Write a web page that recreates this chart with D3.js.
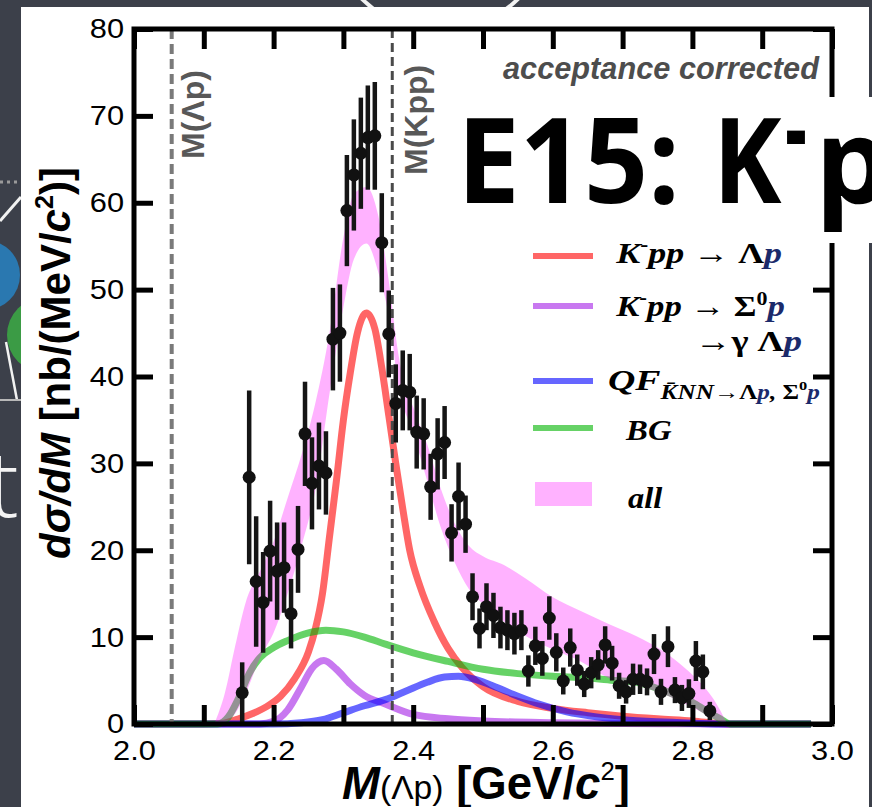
<!DOCTYPE html>
<html><head><meta charset="utf-8">
<script src="https://cdn.jsdelivr.net/npm/d3@7/dist/d3.min.js"></script>
<style>html,body{margin:0;padding:0;background:#3c404a;} svg{display:block}</style>
</head><body>
<svg id="chart" width="872" height="807"></svg>
<script>
// ---------------- data ----------------
const massBins = [2.155,2.165,2.175,2.185,2.195,2.205,2.215,2.225,2.235,2.245,
  2.255,2.265,2.275,2.285,2.295,2.305,2.315,2.325,2.335,2.345,
  2.355,2.365,2.375,2.385,2.395,2.405,2.415,2.425,2.435,2.445,
  2.455,2.465,2.475,2.485,2.495,2.505,2.515,2.525,2.535,2.545,
  2.555,2.565,2.575,2.585,2.595,2.605,2.615,2.625,2.635,2.645,
  2.655,2.665,2.675,2.685,2.695,2.705,2.715,2.725,2.735,2.745,
  2.755,2.765,2.775,2.785,2.795,2.805,2.815,2.825];
const dsigma = [3.6,28.4,16.4,14.0,19.9,17.6,18.0,12.7,20.1,33.4,
  27.7,29.7,28.9,44.3,45.0,59.1,63.2,65.7,67.5,67.7,
  55.4,44.9,36.9,38.4,38.2,33.6,33.4,27.3,31.1,32.4,
  22.0,26.2,23.0,14.65,11.0,13.5,12.5,11.1,10.8,10.4,
  10.8,6.1,9.0,7.55,12.2,8.25,4.95,8.8,6.2,4.6,
  5.9,6.8,9.1,7.0,4.4,3.7,5.15,5.15,4.85,8.05,
  3.7,8.9,3.9,3.0,3.5,7.25,6.0,1.5];
const dsigmaErr = [3.5,10,7.5,5.8,5.8,5.6,5.2,4.0,5.0,6.0,
  5.3,5.0,4.8,5.9,5.6,6.4,6.4,6.4,6.0,6.2,
  5.7,5.0,4.5,4.6,4.4,4.2,4.1,3.8,4.1,4.2,
  3.3,3.9,3.3,2.7,2.3,2.7,2.6,2.4,2.3,2.4,
  2.3,1.8,2.2,2.0,2.5,2.2,1.55,2.2,1.8,1.5,
  1.8,1.7,2.15,2.0,1.5,1.35,1.8,1.7,1.55,2.3,
  1.5,2.35,1.5,1.5,1.65,2.3,2.0,1.05];

// K-pp -> Lambda p
const kppLamX = [2.00,2.10,2.125,2.15,2.17,2.19,2.21,2.23,2.25,2.26,2.27,2.28,2.29,2.30,2.31,2.32,2.333,2.345,2.355,2.365,2.375,2.385,2.395,2.41,2.43,2.45,2.47,2.50,2.55,2.60,2.65,2.70,2.75,2.80,2.85,2.97];
const kppLamY = [0,0,0.05,0.6,1.2,2.0,3.2,5.2,8.3,11,15,21.5,28,35,40.5,45,47.3,45.5,41,35.5,30,24.8,20,15.8,11.8,8.7,6.5,4.3,2.6,1.8,1.3,0.9,0.6,0.35,0,0];
// K-pp -> Sigma0 p
const kppSigX = [2.00,2.18,2.20,2.22,2.24,2.255,2.272,2.29,2.31,2.33,2.36,2.40,2.45,2.50,2.60,2.70,2.80,2.85,2.97];
const kppSigY = [0,0,0.3,1.6,4.3,6.4,7.3,6.3,4.6,3.3,2.3,1.1,0.6,0.35,0.15,0.07,0.02,0,0];
// QF
const qfX = [2.00,2.20,2.24,2.27,2.30,2.33,2.36,2.39,2.42,2.445,2.465,2.49,2.52,2.55,2.58,2.62,2.66,2.70,2.75,2.80,2.85,2.97];
const qfY = [0,0,0.15,0.5,1.3,2.1,2.8,3.8,4.8,5.4,5.5,5.1,4.2,3.2,2.3,1.4,0.85,0.5,0.25,0.1,0,0];
// BG
const bgX = [2.00,2.12,2.135,2.15,2.165,2.18,2.20,2.22,2.25,2.275,2.30,2.33,2.36,2.40,2.45,2.50,2.55,2.60,2.65,2.69,2.72,2.75,2.78,2.80,2.82,2.84,2.855,2.97];
const bgY = [0,0,0.8,3.0,5.8,7.6,8.8,9.6,10.5,10.8,10.6,10.0,9.2,8.2,7.2,6.3,5.8,5.5,5.3,5.0,4.8,4.1,3.2,2.5,1.5,0.6,0,0];
// all (band)
const allX = [2.115,2.13,2.145,2.16,2.18,2.20,2.22,2.24,2.26,2.28,2.30,2.315,2.333,2.35,2.365,2.38,2.40,2.42,2.44,2.46,2.48,2.50,2.53,2.56,2.60,2.64,2.68,2.72,2.76,2.79,2.81,2.83,2.85];
const allHigh = [0,3.5,9,14,17.5,21,26,31,37,45,56,61,61.8,58.5,51,42,36.5,32.2,27,23,20.5,19.3,18.3,16.8,14.6,13,11.5,10.1,8.3,6.4,4.9,2.9,0];
const allLow = [0,0.2,1.2,3.5,7.5,10.5,15,20.5,27,38,48,53.5,55.3,52,47,38.5,33.5,28,22.5,18.5,15.5,13.8,11.8,10.2,8.6,7.2,5.3,4.5,3.4,2.3,1.5,0.6,0];

const xTicks = [2.0,2.1,2.2,2.3,2.4,2.5,2.6,2.7,2.8,2.9,3.0];
const xTickLabels = ['2.0','','2.2','','2.4','','2.6','','2.8','','3.0'];
const yTicks = [0,10,20,30,40,50,60,70,80];
const yTickLabels = ['0','10','20','30','40','50','60','70','80'];
const thresholdMass = [2.054, 2.370];
const thresholdLabels = ['M(Λp)', 'M(Kpp)'];

// ---------------- drawing ----------------
const svg = d3.select('#chart');
const SANS = '"Liberation Sans", Arial, Helvetica, sans-serif';
const SERIF = '"Liberation Serif", "Times New Roman", serif';

// slide background + decorations
svg.append('rect').attr('width',872).attr('height',807).attr('fill','#3c404a');
svg.append('circle').attr('cx',440).attr('cy',-80).attr('r',111).attr('fill','none').attr('stroke','#f2f2f2').attr('stroke-width',4);
svg.append('circle').attr('cx',-15).attr('cy',275).attr('r',35).attr('fill','#2a78b0');
svg.append('circle').attr('cx',45).attr('cy',335).attr('r',38).attr('fill','#3b9b45');
svg.append('line').attr('x1',0).attr('y1',182).attr('x2',21).attr('y2',182).attr('stroke','#9a9a9a').attr('stroke-width',3).attr('stroke-dasharray','3,4');
svg.append('line').attr('x1',0).attr('y1',221).attr('x2',21).attr('y2',197).attr('stroke','#f2f2f2').attr('stroke-width',3);
svg.append('line').attr('x1',6).attr('y1',342).attr('x2',17).attr('y2',400).attr('stroke','#f2f2f2').attr('stroke-width',2.5);
svg.append('line').attr('x1',0).attr('y1',400).attr('x2',21).attr('y2',400).attr('stroke','#b8b8b8').attr('stroke-width',2);
svg.append('text').attr('x',-12).attr('y',517).attr('font-family','"Open Sans", sans-serif').attr('font-weight',300)
  .attr('font-size',92).attr('fill','#f4f4f4').text('t');

// white panel
svg.append('rect').attr('x',21).attr('y',7).attr('width',848).attr('height',800).attr('fill','#ffffff');

const x = d3.scaleLinear().domain([2,3]).range([134,832]);
const y = d3.scaleLinear().domain([0,80]).range([724,29]);

const plot = svg.append('g');

// model curves
const curves = [
  {xs:kppLamX, ys:kppLamY, color:'#ff0000'},
  {xs:kppSigX, ys:kppSigY, color:'#a31ee6'},
  {xs:qfX, ys:qfY, color:'#0000ff'},
  {xs:bgX, ys:bgY, color:'#00b400'}
];
const line = d3.line().x(d=>x(d[0])).y(d=>y(d[1])).curve(d3.curveMonotoneX);
curves.forEach(c => {
  plot.append('path').attr('d', line(c.xs.map((v,i)=>[v,c.ys[i]])))
    .attr('fill','none').attr('stroke',c.color).attr('stroke-opacity',0.6)
    .attr('stroke-width',7).attr('stroke-linejoin','round');
});

// band "all"
const area = d3.area().x(d=>x(d[0])).y0(d=>y(d[1])).y1(d=>y(d[2])).curve(d3.curveMonotoneX);
plot.append('path').attr('d', area(allX.map((v,i)=>[v,allLow[i],allHigh[i]])))
  .attr('fill','#ff00ff').attr('fill-opacity',0.3);

// threshold dashed lines
plot.append('line').attr('x1',x(thresholdMass[0])).attr('x2',x(thresholdMass[0])).attr('y1',y(80)).attr('y2',y(0))
  .attr('stroke','#7a7a7a').attr('stroke-width',4).attr('stroke-dasharray','10,5');
plot.append('line').attr('x1',x(thresholdMass[1])).attr('x2',x(thresholdMass[1])).attr('y1',y(80)).attr('y2',y(0))
  .attr('stroke','#4a4a4a').attr('stroke-width',3).attr('stroke-dasharray','9,5');

svg.append('text').attr('transform',`translate(${x(thresholdMass[0])+32},159) rotate(-90)`)
  .attr('font-family',SANS).attr('font-weight','bold').attr('font-size',32).attr('fill','#585858').text(thresholdLabels[0]);
svg.append('text').attr('transform',`translate(${x(thresholdMass[1])+35},175) rotate(-90)`)
  .attr('font-family',SANS).attr('font-weight','bold').attr('font-size',32).attr('fill','#585858').text(thresholdLabels[1]);

// data points
const pts = massBins.map((m,i)=>({m, v:dsigma[i], e:dsigmaErr[i]}));
plot.selectAll('line.err').data(pts).join('line').attr('class','err')
  .attr('x1',d=>x(d.m)).attr('x2',d=>x(d.m)).attr('y1',d=>y(d.v-d.e)).attr('y2',d=>y(d.v+d.e))
  .attr('stroke','#151515').attr('stroke-width',4.5);
plot.selectAll('circle.pt').data(pts).join('circle').attr('class','pt')
  .attr('cx',d=>x(d.m)).attr('cy',d=>y(d.v)).attr('r',6.5).attr('fill','#111');

// axes (ticks inward on all four sides)
function styleAxis(g){
  g.select('.domain').remove();
  g.selectAll('.tick line').attr('stroke','#000').attr('stroke-width',5);
  g.selectAll('.tick text').attr('font-family',SANS).attr('font-size',28).attr('fill','#000');
}
const gB = svg.append('g').attr('transform','translate(0,724)')
  .call(d3.axisBottom(x).tickValues(xTicks).tickSize(-19).tickSizeOuter(0).tickPadding(16).tickFormat((d,i)=>xTickLabels[i]));
styleAxis(gB);
gB.selectAll('.tick text').attr('transform','scale(1.1,1)');
const gT = svg.append('g').attr('transform','translate(0,29)')
  .call(d3.axisTop(x).tickValues(xTicks).tickSize(-20).tickSizeOuter(0).tickFormat(''));
styleAxis(gT);
const gL = svg.append('g').attr('transform','translate(134,0)')
  .call(d3.axisLeft(y).tickValues(yTicks).tickSize(-19).tickSizeOuter(0).tickPadding(9).tickFormat((d,i)=>yTickLabels[i]));
styleAxis(gL);
gL.selectAll('.tick text').attr('transform','scale(1.1,1)');
const gR = svg.append('g').attr('transform','translate(832,0)')
  .call(d3.axisRight(y).tickValues(yTicks).tickSize(-19).tickSizeOuter(0).tickFormat(''));
styleAxis(gR);

svg.append('rect').attr('x',134).attr('y',29).attr('width',698).attr('height',695)
  .attr('fill','none').attr('stroke','#000').attr('stroke-width',5);

// helpers for rich text
function rich(parent, yb, fs, family, parts, weight){
  const t = parent.append('text').attr('x',0).attr('y',yb).attr('font-family',family)
    .attr('font-size',fs).attr('font-weight',weight||'bold').attr('fill','#000');
  parts.forEach(p=>{
    const s = t.append('tspan').text(p.t);
    if (p.fs) s.attr('font-size',p.fs);
    if (p.dy) s.attr('dy',p.dy);
    if (p.it) s.attr('font-style','italic');
    if (p.w) s.attr('font-weight',p.w);
    if (p.fill) s.attr('fill',p.fill);
  });
  return t;
}
function fit(g, x0, w){
  const bb = g.node().getBBox();
  const s = w / bb.width;
  g.attr('transform',`translate(${x0 - bb.x*s},0) scale(${s},1)`);
}

// axis titles
const gy = svg.append('g').attr('transform','translate(70,363) rotate(-90)');
rich(gy, 0, 42, SANS, [
  {t:'dσ/dM', it:true}, {t:' [nb/(MeV/'}, {t:'c', it:true}, {t:'2', fs:25, dy:-17}, {t:')]', dy:17}
]).attr('text-anchor','middle');

const gx = svg.append('g');
rich(gx, 799, 46, SANS, [
  {t:'M', it:true}, {t:'(Λp)', fs:34, w:'normal'}, {t:' [GeV/'}, {t:'c', it:true}, {t:'2', fs:26, dy:-19, w:'normal'}, {t:']', dy:19}
]);
fit(gx, 342, 288);

// acceptance corrected
const ga = svg.append('g');
rich(ga, 79, 31, SANS, [{t:'acceptance corrected', it:true}]).attr('fill','#4d4d4d');
fit(ga, 503, 317);

// legend
const NAVY = '#1b2a6b';
const legendColors = ['#ff0000','#a31ee6','#0000ff','#00b400'];
const legendY = [256, 306, 381, 428];
legendColors.forEach((c,i)=>{
  svg.append('line').attr('x1',533).attr('x2',593).attr('y1',legendY[i]).attr('y2',legendY[i])
    .attr('stroke',c).attr('stroke-opacity',0.6).attr('stroke-width',6);
});
svg.append('rect').attr('x',535).attr('y',482).attr('width',57).attr('height',24).attr('fill','#ff00ff').attr('fill-opacity',0.3);

const L = [
  {x:615, w:167, y:263, parts:[{t:'K', it:true},{t:'-', fs:20, dy:-12},{t:'pp', it:true, fs:30, dy:12},{t:' → '},{t:'Λ'},{t:'p', it:true, fill:NAVY}]},
  {x:615, w:170, y:316, parts:[{t:'K', it:true},{t:'-', fs:20, dy:-12},{t:'pp', it:true, fs:30, dy:12},{t:' → '},{t:'Σ'},{t:'0', fs:19, dy:-11},{t:'p', it:true, fs:30, dy:11, fill:NAVY}]},
  {x:695, w:105, y:351, parts:[{t:'→'},{t:'γ '},{t:'Λ'},{t:'p', it:true, fill:NAVY}]},
  {x:608, w:212, y:390, parts:[{t:'QF', it:true},{t:'K\u0304NN', it:true, fs:20, dy:9},{t:'→', fs:20},{t:'Λ', fs:20},{t:'p', it:true, fs:20, fill:NAVY},{t:', ', it:true, fs:20},{t:'Σ', fs:20},{t:'0', fs:13, dy:-9},{t:'p', it:true, fs:20, dy:9, fill:NAVY}]},
  {x:625, w:47, y:440, parts:[{t:'BG', it:true}]},
  {x:628, w:35, y:508, parts:[{t:'all', it:true}]}
];
L.forEach(e=>{
  const g = svg.append('g');
  rich(g, e.y, 30, SERIF, e.parts);
  fit(g, e.x, e.w);
});

// title box
svg.append('rect').attr('x',440).attr('y',97).attr('width',432).attr('height',146).attr('fill','#ffffff');
const TF = '"Open Sans", sans-serif';
const t1 = svg.append('g');
t1.append('text').attr('x',0).attr('y',203).attr('font-family',TF).attr('font-weight',700).attr('font-size',118).attr('fill','#000').text('E15:');
fit(t1, 457, 223);
const t2 = svg.append('g');
t2.append('text').attr('x',0).attr('y',203).attr('font-family',TF).attr('font-weight',700).attr('font-size',118).attr('fill','#000').text('K');
fit(t2, 713, 69);
const t3 = svg.append('g');
t3.append('text').attr('x',0).attr('y',167).attr('font-family',TF).attr('font-weight',700).attr('font-size',110).attr('fill','#000').text('-');
fit(t3, 785, 22);
svg.append('text').attr('x',815).attr('y',203).attr('font-family',TF).attr('font-weight',700).attr('font-size',118).attr('fill','#000').text('p');
</script>
</body></html>
